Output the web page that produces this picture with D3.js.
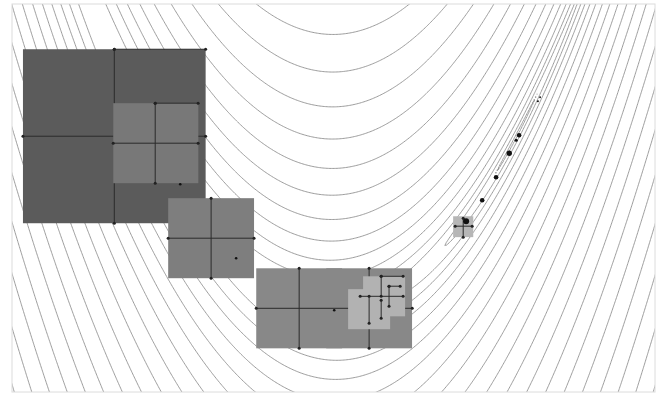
<!DOCTYPE html>
<html>
<head>
<meta charset="utf-8">
<script src="https://cdn.jsdelivr.net/npm/d3@7"></script>
<style>
  body { margin: 0; background: #fff; }
</style>
</head>
<body>
<svg id="chart"></svg>
<script>
// plot window (function space)
const xDomain = [-1.76, 1.76]
const yDomain = [-0.47, 1.76]

// contour levels of the Rosenbrock surface
const levels = [0.0142, 0.153, 0.671, 1.97, 4.61, 9.27, 16.8, 28.2, 44.7, 67.4, 97.8,
    137.6, 188.4, 252.2, 330.9, 426.7, 542.0, 679.2, 840.9, 1030, 1249]

// poll squares: centre x, centre y, half width, half height
const squares = [
    [-1.2, 1.0, 0.5, 0.5],
    [-0.973, 0.96, 0.233, 0.23],
    [-0.67, 0.414, 0.235, 0.23],
    [-0.188, 0.011, 0.235, 0.23],
    [0.195, 0.011, 0.235, 0.23],
    [0.195, 0.006, 0.115, 0.115],
    [0.277, 0.080, 0.115, 0.115],
    [0.71, 0.48, 0.055, 0.06]
]
const squareLayer = [0, 1, 2, 3, 3, 4, 4, 5]

// poll steps drawn as segments: x1, y1, x2, y2
const segments = [
    [-1.7, 1.0, -0.7, 1.0],
    [-1.2, 1.5, -1.2, 0.5],
    [-1.2, 1.5, -0.7, 1.5],
    [-1.206, 0.96, -0.741, 0.96],
    [-0.976, 1.19, -0.976, 0.73],
    [-0.976, 1.19, -0.741, 1.19],
    [-0.905, 0.414, -0.435, 0.414],
    [-0.67, 0.644, -0.67, 0.184],
    [-0.423, 0.011, 0.431, 0.011],
    [-0.188, 0.241, -0.188, -0.218],
    [0.195, 0.241, 0.195, -0.218],
    [0.146, 0.080, 0.381, 0.080],
    [0.261, 0.195, 0.381, 0.195],
    [0.261, 0.195, 0.261, 0.080],
    [0.304, 0.138, 0.365, 0.138],
    [0.304, 0.138, 0.304, 0.023],
    [0.261, 0.057, 0.261, -0.046],
    [0.195, 0.080, 0.195, -0.075],
    [0.666, 0.483, 0.759, 0.483],
    [0.710, 0.529, 0.710, 0.420]
]
const segmentLayer = [0, 0, 0, 1, 1, 1, 2, 2, 3, 3, 3, 4, 4, 4, 4, 4, 4, 4, 5, 5]

// accepted iterates
const iterates = [
    [-0.839, 0.724], [-0.533, 0.299], [0.004, 0.0], [0.726, 0.511],
    [0.814, 0.632], [0.890, 0.764], [0.962, 0.902], [1.0, 0.977],
    [1.016, 1.006], [1.119, 1.201], [1.131, 1.224]
]
const iterateRadius = [1.3, 1.3, 1.3, 3, 2.3, 2.3, 2.7, 1.6, 2.3, 1, 0.9]

const layerShade = ['#5b5b5b', '#787878', '#7e7e7e', '#888888', '#b2b2b2', '#b6b6b6']

const width = 668
const height = 396

const svg = d3.select('#chart')
    .attr('width', width)
    .attr('height', height)
    .style('background', '#fff')

const x = d3.scaleLinear().domain(xDomain).range([12, 655])
const y = d3.scaleLinear().domain(yDomain).range([392, 4])

svg.append('clipPath')
    .attr('id', 'frame')
    .append('rect')
    .attr('x', x(xDomain[0]))
    .attr('y', y(yDomain[1]))
    .attr('width', x(xDomain[1]) - x(xDomain[0]))
    .attr('height', y(yDomain[0]) - y(yDomain[1]))

// sample the surface a bit past the frame so no border edges get stroked
const nx = 480, ny = 300
const gx0 = xDomain[0] - 0.1, gx1 = xDomain[1] + 0.1
const gy0 = yDomain[0] - 0.1, gy1 = yDomain[1] + 0.1
const dx = (gx1 - gx0) / (nx - 1)
const dy = (gy1 - gy0) / (ny - 1)
const values = new Float64Array(nx * ny)
for (let j = 0; j < ny; j++) {
    const Y = gy1 - j * dy
    for (let i = 0; i < nx; i++) {
        const X = gx0 + i * dx
        values[j * nx + i] = (1 - X) * (1 - X) + 100 * (Y - X * X) * (Y - X * X)
    }
}

const contours = d3.contours().size([nx, ny]).thresholds(levels)(values)

const toScreen = d3.geoTransform({
    point: function (px, py) {
        this.stream.point(x(gx0 + (px - 0.5) * dx), y(gy1 - (py - 0.5) * dy))
    }
})
const path = d3.geoPath(toScreen)

const plot = svg.append('g').attr('clip-path', 'url(#frame)')

plot.append('g')
    .selectAll('path')
    .data(contours)
    .enter()
    .append('path')
    .attr('d', path)
    .attr('fill', 'none')
    .attr('stroke', '#8a8a8a')
    .attr('stroke-width', 0.85)

const layers = d3.range(layerShade.length)
layers.forEach(function (L) {
    const g = plot.append('g')
    g.selectAll('rect')
        .data(squares.filter((d, i) => squareLayer[i] === L))
        .enter()
        .append('rect')
        .attr('x', d => x(d[0] - d[2]))
        .attr('y', d => y(d[1] + d[3]))
        .attr('width', d => x(d[0] + d[2]) - x(d[0] - d[2]))
        .attr('height', d => y(d[1] - d[3]) - y(d[1] + d[3]))
        .attr('fill', layerShade[L])

    const segs = segments.filter((d, i) => segmentLayer[i] === L)
    g.selectAll('line')
        .data(segs)
        .enter()
        .append('line')
        .attr('x1', d => x(d[0]))
        .attr('y1', d => y(d[1]))
        .attr('x2', d => x(d[2]))
        .attr('y2', d => y(d[3]))
        .attr('stroke', '#2b2b2b')
        .attr('stroke-width', 1)

    const ends = []
    segs.forEach(d => { ends.push([d[0], d[1]]); ends.push([d[2], d[3]]) })
    g.selectAll('circle')
        .data(ends)
        .enter()
        .append('circle')
        .attr('cx', d => x(d[0]))
        .attr('cy', d => y(d[1]))
        .attr('r', 1.5)
        .attr('fill', '#222')
})

plot.append('g')
    .selectAll('circle')
    .data(iterates)
    .enter()
    .append('circle')
    .attr('cx', d => x(d[0]))
    .attr('cy', d => y(d[1]))
    .attr('r', (d, i) => iterateRadius[i])
    .attr('fill', '#111')

svg.append('rect')
    .attr('x', x(xDomain[0]))
    .attr('y', y(yDomain[1]))
    .attr('width', x(xDomain[1]) - x(xDomain[0]))
    .attr('height', y(yDomain[0]) - y(yDomain[1]))
    .attr('fill', 'none')
    .attr('stroke', '#dcdcdc')
    .attr('stroke-width', 1)
</script>
</body>
</html>
